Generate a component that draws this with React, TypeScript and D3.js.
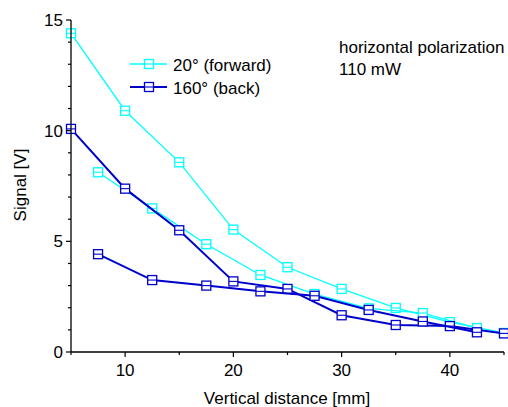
import React from "react";
import * as d3 from "d3";

// distances [mm] and signals [V]
const fwdX1 = [5, 10, 15, 20, 25, 30, 35, 40, 45];
const fwdY1 = [14.4, 10.9, 8.57, 5.53, 3.83, 2.85, 1.99, 1.35, 0.86];
const fwdX2 = [7.5, 12.5, 17.5, 22.5, 27.5, 32.5, 37.5, 42.5];
const fwdY2 = [8.12, 6.49, 4.87, 3.48, 2.62, 1.97, 1.76, 1.08];
const backX1 = [5, 10, 15, 20, 25, 30, 35, 40, 45];
const backY1 = [10.08, 7.38, 5.5, 3.19, 2.85, 1.66, 1.22, 1.17, 0.84];
const backX2 = [7.5, 12.5, 17.5, 22.5, 27.5, 32.5, 37.5, 42.5];
const backY2 = [4.42, 3.25, 3.0, 2.74, 2.54, 1.9, 1.38, 0.89];

const xTicks = [10, 20, 30, 40];
const xMinor = [5, 15, 25, 35, 45];
const yTicks = [0, 5, 10, 15];
const yMinor = [1, 2, 3, 4, 6, 7, 8, 9, 11, 12, 13, 14];

const CYAN = "#00ffff";
const BLUE = "#0000cc";
const FONT = "'Liberation Sans', Arial, sans-serif";
const FS = 17;

const x = d3.scaleLinear().domain([5, 45]).range([71, 504]);
const y = d3.scaleLinear().domain([0, 15]).range([352, 20]);

const line = d3
  .line<[number, number]>()
  .x((d) => x(d[0]))
  .y((d) => y(d[1]));

const zip = (xs: number[], ys: number[]) =>
  xs.map((v, i) => [v, ys[i]] as [number, number]);

const Marker = ({ cx, cy, color }: { cx: number; cy: number; color: string }) => (
  <g>
    <rect x={cx - 4.5} y={cy - 4.5} width={9} height={9} fill="white" stroke={color} strokeWidth={1.3} />
    <line x1={cx - 4.5} x2={cx + 4.5} y1={cy} y2={cy} stroke={color} strokeWidth={1.1} />
  </g>
);

const Series = ({ pts, color, width }: { pts: [number, number][]; color: string; width: number }) => (
  <g>
    <path d={line(pts) ?? ""} fill="none" stroke={color} strokeWidth={width} />
    {pts.map((p, i) => (
      <Marker key={i} cx={x(p[0])} cy={y(p[1])} color={color} />
    ))}
  </g>
);

export default function App() {
  const series = [
    { pts: zip(fwdX1, fwdY1), color: CYAN, width: 1.3 },
    { pts: zip(fwdX2, fwdY2), color: CYAN, width: 1.3 },
    { pts: zip(backX1, backY1), color: BLUE, width: 2 },
    { pts: zip(backX2, backY2), color: BLUE, width: 2 },
  ];
  const legend = [
    { label: "20° (forward)", color: CYAN, width: 1.3, yy: 64 },
    { label: "160° (back)", color: BLUE, width: 2, yy: 87 },
  ];
  return (
    <svg width={508} height={407} style={{ position: "absolute", left: 0, top: 0 }} fontFamily={FONT}>
      <rect width={508} height={407} fill="white" />
      {series.map((s, i) => (
        <Series key={i} {...s} />
      ))}

      {/* axes */}
      <line x1={x(5)} x2={x(45)} y1={y(0)} y2={y(0)} stroke="black" strokeWidth={1.3} />
      <line x1={x(5)} x2={x(5)} y1={y(0)} y2={y(15)} stroke="black" strokeWidth={1.3} />
      {xTicks.map((t) => (
        <g key={t}>
          <line x1={x(t)} x2={x(t)} y1={y(0)} y2={y(0) + 5} stroke="black" strokeWidth={1.2} />
          <text x={x(t)} y={376} textAnchor="middle" fontSize={FS}>
            {t}
          </text>
        </g>
      ))}
      {xMinor.map((t) => (
        <line key={t} x1={x(t)} x2={x(t)} y1={y(0)} y2={y(0) + 3} stroke="black" strokeWidth={1.2} />
      ))}
      {yTicks.map((t) => (
        <g key={t}>
          <line x1={x(5) - 5} x2={x(5)} y1={y(t)} y2={y(t)} stroke="black" strokeWidth={1.2} />
          <text x={63} y={y(t) + 6} textAnchor="end" fontSize={FS}>
            {t}
          </text>
        </g>
      ))}
      {yMinor.map((t) => (
        <line key={t} x1={x(5) - 3} x2={x(5)} y1={y(t)} y2={y(t)} stroke="black" strokeWidth={1.2} />
      ))}

      <text x={287} y={404} textAnchor="middle" fontSize={FS}>
        Vertical distance [mm]
      </text>
      <text transform="translate(26,185) rotate(-90)" textAnchor="middle" fontSize={FS}>
        Signal [V]
      </text>

      {/* legend */}
      {legend.map((l) => (
        <g key={l.label}>
          <line x1={130} x2={167} y1={l.yy} y2={l.yy} stroke={l.color} strokeWidth={l.width} />
          <Marker cx={149} cy={l.yy} color={l.color} />
          <text x={173} y={l.yy + 6.5} fontSize={FS}>
            {l.label}
          </text>
        </g>
      ))}

      <text x={339} y={53} fontSize={FS}>
        horizontal polarization
      </text>
      <text x={339} y={75} fontSize={FS}>
        110 mW
      </text>
    </svg>
  );
}
